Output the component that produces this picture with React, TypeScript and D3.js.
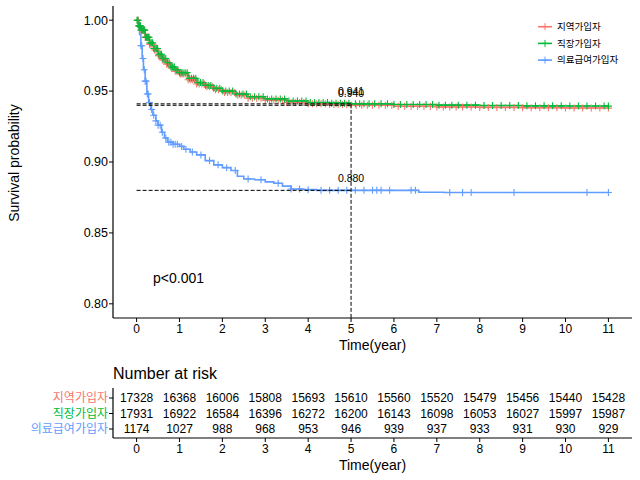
import React from "react";
import * as d3 from "d3";

const groups = ["지역가입자", "직장가입자", "의료급여가입자"];
const colors = ["#F8766D", "#00BA38", "#619CFF"];

// survival step points: [time, survival]
const redSteps: [number, number][] = [
  [0, 1.0], [0.05, 0.996], [0.1, 0.993], [0.2, 0.988], [0.3, 0.983], [0.4, 0.979],
  [0.5, 0.975], [0.6, 0.972], [0.7, 0.969], [0.8, 0.966], [0.9, 0.964], [1.0, 0.962],
  [1.2, 0.958], [1.4, 0.955], [1.6, 0.953], [1.8, 0.951], [2.0, 0.949], [2.3, 0.947],
  [2.6, 0.945], [3.0, 0.9435], [3.5, 0.942], [4.0, 0.941], [4.5, 0.9405], [5.0, 0.940],
  [6.0, 0.9393], [7.0, 0.9388], [8.0, 0.9385], [9.0, 0.9383], [10.0, 0.9381], [11.0, 0.938],
];
const greenSteps: [number, number][] = [
  [0, 1.0], [0.05, 0.996], [0.1, 0.993], [0.2, 0.988], [0.3, 0.984], [0.4, 0.980],
  [0.5, 0.976], [0.6, 0.973], [0.7, 0.970], [0.8, 0.967], [0.9, 0.965], [1.0, 0.963],
  [1.2, 0.959], [1.4, 0.956], [1.6, 0.954], [1.8, 0.952], [2.0, 0.950], [2.3, 0.948],
  [2.6, 0.946], [3.0, 0.9445], [3.5, 0.943], [4.0, 0.942], [4.5, 0.9415], [5.0, 0.941],
  [6.0, 0.9405], [7.0, 0.9401], [8.0, 0.9398], [9.0, 0.9396], [10.0, 0.9395], [11.0, 0.9394],
];
const blueSteps: [number, number][] = [
  [0, 1.0], [0.03, 0.995], [0.07, 0.99], [0.1, 0.982], [0.13, 0.973], [0.16, 0.965],
  [0.2, 0.957], [0.24, 0.948], [0.28, 0.942], [0.33, 0.937], [0.38, 0.933], [0.45, 0.929],
  [0.5, 0.926], [0.58, 0.921], [0.65, 0.917], [0.72, 0.914], [0.85, 0.9125], [1.0, 0.911],
  [1.1, 0.909], [1.25, 0.907], [1.4, 0.905], [1.6, 0.901], [1.8, 0.898], [2.0, 0.896],
  [2.2, 0.894], [2.35, 0.890], [2.5, 0.888], [2.75, 0.8875], [3.0, 0.886], [3.2, 0.885],
  [3.4, 0.883], [3.6, 0.881], [3.9, 0.8805], [4.2, 0.880], [6.58, 0.8787], [7.16, 0.8785],
  [11.0, 0.8785],
];

const redCensor = [
  0.02, 0.04, 0.06, 0.08, 0.1, 0.12, 0.14, 0.16, 0.18, 0.2, 0.22, 0.24, 0.26, 0.28, 0.3,
  0.33, 0.36, 0.39, 0.42, 0.45, 0.48, 0.51, 0.54, 0.57, 0.6, 0.63, 0.66, 0.7, 0.74, 0.78,
  0.82, 0.86, 0.9, 0.94, 0.98, 1.02, 1.06, 1.1, 1.15, 1.2, 1.25, 1.3, 1.35, 1.4, 1.46,
  1.52, 1.58, 1.64, 1.7, 1.77, 1.84, 1.91, 1.98, 2.05, 2.12, 2.2, 2.28, 2.36, 2.44, 2.52,
  2.6, 2.7, 2.8, 2.9, 3.0, 3.1, 3.2, 3.3, 3.4, 3.5, 3.6, 3.7, 3.8, 3.9, 4.0, 4.1, 4.2,
  4.3, 4.4, 4.5, 4.6, 4.7, 4.8, 4.9, 5.0, 5.12, 5.25, 5.38, 5.5, 5.65, 5.8, 5.95, 6.1,
  6.25, 6.4, 6.55, 6.7, 6.85, 7.0, 7.15, 7.3, 7.45, 7.6, 7.8, 8.0, 8.2, 8.4, 8.6, 8.8,
  9.0, 9.2, 9.4, 9.6, 9.8, 10.0, 10.2, 10.4, 10.6, 10.8, 11.0,
];
const greenCensor = [
  0.01, 0.03, 0.05, 0.07, 0.09, 0.11, 0.13, 0.15, 0.17, 0.19, 0.21, 0.23, 0.25, 0.27,
  0.29, 0.31, 0.34, 0.37, 0.4, 0.43, 0.46, 0.49, 0.52, 0.55, 0.58, 0.61, 0.64, 0.68,
  0.72, 0.76, 0.8, 0.84, 0.88, 0.92, 0.96, 1.0, 1.04, 1.08, 1.13, 1.18, 1.23, 1.28,
  1.33, 1.38, 1.43, 1.49, 1.55, 1.61, 1.67, 1.73, 1.8, 1.87, 1.94, 2.01, 2.08, 2.16,
  2.24, 2.32, 2.4, 2.48, 2.56, 2.65, 2.75, 2.85, 2.95, 3.05, 3.15, 3.25, 3.35, 3.45,
  3.55, 3.65, 3.75, 3.85, 3.95, 4.05, 4.15, 4.25, 4.35, 4.45, 4.55, 4.65, 4.75, 4.85,
  4.95, 5.1, 5.2, 5.3, 5.42, 5.55, 5.7, 5.85, 6.0, 6.15, 6.3, 6.45, 6.6, 6.75, 6.9,
  7.05, 7.2, 7.35, 7.5, 7.7, 7.9, 8.1, 8.3, 8.5, 8.7, 8.9, 9.1, 9.3, 9.5, 9.7, 9.9,
  10.1, 10.3, 10.5, 10.7, 10.9, 11.0,
];
const blueCensor = [
  0.1, 0.12, 0.15, 0.18, 0.2, 0.22, 0.25, 0.27, 0.3, 0.35, 0.4, 0.45, 0.5, 0.55, 0.6,
  0.68, 0.75, 0.8, 0.85, 0.9, 0.95, 1.05, 1.15, 1.3, 1.5, 1.7, 1.9, 2.1, 2.3, 2.6, 2.9,
  3.3, 3.6, 3.8, 4.0, 4.3, 4.5, 4.7, 4.9, 5.1, 5.3, 5.5, 5.6, 5.7, 5.9, 6.4, 6.5, 7.3,
  7.6, 7.8, 8.8, 10.5, 11.0,
];

const steps = [redSteps, greenSteps, blueSteps];
const censors = [redCensor, greenCensor, blueCensor];

const xTicks = [0, 1, 2, 3, 4, 5, 6, 7, 8, 9, 10, 11];
const yTicks = [0.8, 0.85, 0.9, 0.95, 1.0];

const riskRed = [17328, 16368, 16006, 15808, 15693, 15610, 15560, 15520, 15479, 15456, 15440, 15428];
const riskGreen = [17931, 16922, 16584, 16396, 16272, 16200, 16143, 16098, 16053, 16027, 15997, 15987];
const riskBlue = [1174, 1027, 988, 968, 953, 946, 939, 937, 933, 931, 930, 929];
const risks = [riskRed, riskGreen, riskBlue];

const medianTime = 5;
const fiveYearLabels = [
  { value: 0.941, text: "0.941" },
  { value: 0.940, text: "0.940" },
  { value: 0.880, text: "0.880" },
];

const FONT = "'Liberation Sans', Arial, sans-serif";
const KFONT = "'Noto Sans CJK KR', 'Liberation Sans', sans-serif";

function survAt(s: [number, number][], t: number) {
  let v = s[0][1];
  for (const [tt, vv] of s) {
    if (tt <= t) v = vv;
    else break;
  }
  return v;
}

export default function App() {
  const left = 113, right = 632, top = 6, bottom = 318;
  const x = d3.scaleLinear().domain([-0.55, 11.55]).range([left, right]);
  const y = d3.scaleLinear().domain([0.79, 1.01]).range([bottom, top]);
  const line = d3
    .line<[number, number]>()
    .x((d) => x(d[0]))
    .y((d) => y(d[1]))
    .curve(d3.curveStepAfter);

  const riskY = d3.scalePoint<string>().domain(groups).range([398, 429]);
  const riskAxisY = 438;
  const cs = 3.5;
  const midX = (left + right) / 2;

  return (
    <svg
      width={640}
      height={480}
      style={{ position: "absolute", left: 0, top: 0, background: "#fff" }}
      fontFamily={FONT}
    >
      <rect width={640} height={480} fill="#fff" />
      {/* curves */}
      {steps.map((s, i) => (
        <path key={"c" + i} d={line(s) || ""} fill="none" stroke={colors[i]} strokeWidth={1.6} />
      ))}
      {/* censor marks */}
      {censors.map((cArr, i) =>
        cArr.map((t, j) => {
          const cx = x(t), cy = y(survAt(steps[i], t));
          return (
            <path
              key={"m" + i + "-" + j}
              d={`M${cx - cs},${cy}H${cx + cs}M${cx},${cy - cs}V${cy + cs}`}
              stroke={colors[i]}
              strokeWidth={1.1}
            />
          );
        })
      )}
      {/* dashed reference lines */}
      {fiveYearLabels.map((l, i) => (
        <line
          key={"h" + i}
          x1={x(0)}
          x2={x(medianTime)}
          y1={y(l.value)}
          y2={y(l.value)}
          stroke="#000"
          strokeDasharray="4,2"
          strokeWidth={1}
        />
      ))}
      <line
        x1={x(medianTime)}
        x2={x(medianTime)}
        y1={y(0.941)}
        y2={bottom}
        stroke="#000"
        strokeDasharray="4,2"
        strokeWidth={1}
      />
      {fiveYearLabels.map((l, i) => (
        <text
          key={"lt" + i}
          x={x(medianTime)}
          y={y(l.value) - 8.5}
          textAnchor="middle"
          fontSize={10.5}
          fill="#000"
        >
          {l.text}
        </text>
      ))}
      {/* axes */}
      <line x1={left} x2={left} y1={top} y2={bottom} stroke="#000" strokeWidth={1.2} />
      <line x1={left} x2={right} y1={bottom} y2={bottom} stroke="#000" strokeWidth={1.2} />
      {yTicks.map((t) => (
        <g key={"yt" + t}>
          <line x1={left - 4} x2={left} y1={y(t)} y2={y(t)} stroke="#000" />
          <text x={left - 5} y={y(t)} dy="0.35em" textAnchor="end" fontSize={12.5} fill="#000">
            {t.toFixed(2)}
          </text>
        </g>
      ))}
      {xTicks.map((t) => (
        <g key={"xt" + t}>
          <line x1={x(t)} x2={x(t)} y1={bottom} y2={bottom + 4} stroke="#000" />
          <text x={x(t)} y={bottom + 15} textAnchor="middle" fontSize={12} fill="#000">
            {t}
          </text>
        </g>
      ))}
      <text x={midX} y={350} textAnchor="middle" fontSize={14} fill="#000">
        Time(year)
      </text>
      <text
        transform={`translate(18.5,163) rotate(-90)`}
        textAnchor="middle"
        fontSize={14}
        fill="#000"
      >
        Survival probability
      </text>
      <text x={153} y={283} fontSize={14} fill="#000">
        p&lt;0.001
      </text>
      {/* legend */}
      {groups.map((g, i) => {
        const ly = 26.7 + i * 16.7;
        return (
          <g key={"lg" + i}>
            <line x1={538} x2={552} y1={ly} y2={ly} stroke={colors[i]} strokeWidth={1.6} />
            <path d={`M${545 - cs},${ly}H${545 + cs}M${545},${ly - cs}V${ly + cs}`} stroke={colors[i]} />
            <text x={557} y={ly} dy="0.35em" fontSize={9.5} fontFamily={KFONT} fill="#000">
              {g}
            </text>
          </g>
        );
      })}
      {/* risk table */}
      <text x={113} y={378.5} fontSize={16} fill="#000">
        Number at risk
      </text>
      {risks.map((r, i) =>
        r.map((v, j) => (
          <text
            key={"r" + i + "-" + j}
            x={x(xTicks[j])}
            y={riskY(groups[i])}
            dy="0.35em"
            textAnchor="middle"
            fontSize={12}
            fill="#000"
          >
            {v}
          </text>
        ))
      )}
      {groups.map((g, i) => (
        <g key={"rl" + i}>
          <line x1={left - 4} x2={left} y1={riskY(g)} y2={riskY(g)} stroke="#000" />
          <text
            x={left - 5}
            y={riskY(g)}
            dy="0.35em"
            textAnchor="end"
            fontSize={12}
            fontFamily={KFONT}
            fill={colors[i]}
          >
            {g}
          </text>
        </g>
      ))}
      <line x1={left} x2={left} y1={388} y2={riskAxisY} stroke="#000" strokeWidth={1.2} />
      <line x1={left} x2={right} y1={riskAxisY} y2={riskAxisY} stroke="#000" strokeWidth={1.2} />
      {xTicks.map((t) => (
        <g key={"rxt" + t}>
          <line x1={x(t)} x2={x(t)} y1={riskAxisY} y2={riskAxisY + 4} stroke="#000" />
          <text x={x(t)} y={riskAxisY + 15} textAnchor="middle" fontSize={12} fill="#000">
            {t}
          </text>
        </g>
      ))}
      <text x={midX} y={470} textAnchor="middle" fontSize={14} fill="#000">
        Time(year)
      </text>
    </svg>
  );
}
